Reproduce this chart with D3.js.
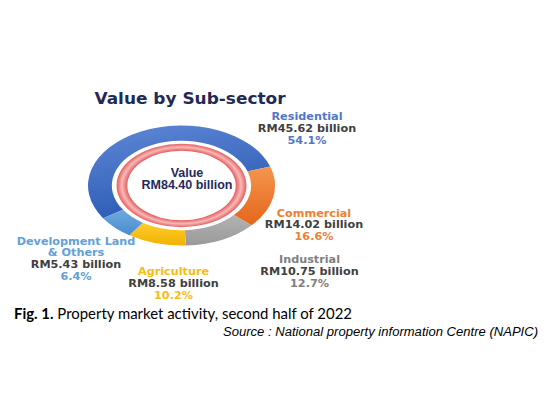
<!DOCTYPE html>
<html>
<head>
<meta charset="utf-8">
<script src="https://cdn.jsdelivr.net/npm/d3@7/dist/d3.min.js"></script>
<style>
    body { margin: 0; background: #fff; }
    svg { display: block; }
</style>
</head>
<body>
<svg id="chart"></svg>
<script>
// data
var sectors = ['Residential', 'Commercial', 'Industrial', 'Agriculture', 'Development Land & Others'];
var values = [45.62, 14.02, 10.75, 8.58, 5.43];       // RM billion
var shares = [54.1, 16.6, 12.7, 10.2, 6.4];           // percent
var totalValue = 84.40;

var width = 546, height = 399;

// slice colours (top / bottom of each gradient) and label colours
var sliceTop = ['#5f88d5', '#f4964f', '#b3b3b3', '#ffcb2e', '#6eaae0'];
var sliceBottom = ['#2c5bb6', '#e4661a', '#999999', '#f2b300', '#4a8ccc'];
var labelColors = ['#4f78cc', '#f07f33', '#7f7f7f', '#f9bd12', '#63a0d8'];
var pctColors = ['#4f78cc', '#f07f33', '#7f7f7f', '#f9bd12', '#63a0d8'];

// where each label block sits (centre x, first baseline)
var labelPos = [[307, 120], [314, 216.5], [309.5, 263], [173.5, 275], [76, 244.5]];

var svg = d3.select('#chart')
    .attr('width', width)
    .attr('height', height);

var defs = svg.append('defs');

// donut geometry: a circle squashed into an ellipse
var cx = 181.5, cy = 185.5, sx = 0.935, sy = 0.60;
var R = 100, r = 74.5;

sectors.forEach(function (s, i) {
    var g = defs.append('linearGradient')
        .attr('id', 'slice' + i)
        .attr('x1', 0).attr('y1', 0)
        .attr('x2', i === 0 ? 0.35 : 0).attr('y2', 1);
    g.append('stop').attr('offset', 0).attr('stop-color', sliceTop[i]);
    g.append('stop').attr('offset', 1).attr('stop-color', sliceBottom[i]);
});

// red inner ring gradient (edges red, middle pale)
var ringOuter = 69.5, ringInner = 58;
var rg = defs.append('radialGradient')
    .attr('id', 'ring')
    .attr('gradientUnits', 'userSpaceOnUse')
    .attr('cx', 0).attr('cy', 0).attr('r', ringOuter);
rg.append('stop').attr('offset', ringInner / ringOuter).attr('stop-color', '#e55f5f');
rg.append('stop').attr('offset', (ringInner + ringOuter) / 2 / ringOuter).attr('stop-color', '#f8b8b8');
rg.append('stop').attr('offset', 1).attr('stop-color', '#e55f5f');

var startA = -123 * Math.PI / 180;
var pie = d3.pie()
    .sort(null)
    .startAngle(startA)
    .endAngle(startA + 2 * Math.PI);
var arc = d3.arc().innerRadius(r).outerRadius(R);

var donut = svg.append('g')
    .attr('transform', 'translate(' + cx + ',' + cy + ') scale(' + sx + ',' + sy + ')');

donut.selectAll('path.slice')
    .data(pie(values))
    .enter()
    .append('path')
    .attr('class', 'slice')
    .attr('fill', function (d, i) { return 'url(#slice' + i + ')'; })
    .attr('d', arc);

donut.append('path')
    .attr('fill', 'url(#ring)')
    .attr('d', d3.arc().innerRadius(ringInner).outerRadius(ringOuter).startAngle(0).endAngle(2 * Math.PI)());

// title
svg.append('text')
    .attr('transform', 'translate(190,103.5) scale(1.13,1)')
    .attr('text-anchor', 'middle')
    .style('font-family', 'DejaVu Sans')
    .style('font-weight', 'bold')
    .style('font-size', '15px')
    .attr('fill', '#1f2a55')
    .text('Value by Sub-sector');

// centre text
var centre = svg.append('text')
    .attr('text-anchor', 'middle')
    .style('font-family', 'Liberation Sans, Arial')
    .style('font-weight', 'bold')
    .style('font-size', '12.5px')
    .attr('fill', '#1f2a5c');
centre.append('tspan').attr('x', 187).attr('y', 176.5).text('Value');
centre.append('tspan').attr('x', 187).attr('y', 189).text('RM' + totalValue.toFixed(2) + ' billion');

// slice labels
var lineH = 12;
sectors.forEach(function (s, i) {
    var nameLines = s === 'Development Land & Others' ? ['Development Land', '& Others'] : [s];
    var lines = nameLines.map(function (t) { return { t: t, c: labelColors[i] }; });
    lines.push({ t: 'RM' + values[i].toFixed(2) + ' billion', c: '#404040' });
    lines.push({ t: shares[i].toFixed(1) + '%', c: pctColors[i] });

    var g = svg.append('g')
        .attr('transform', 'translate(' + labelPos[i][0] + ',' + labelPos[i][1] + ') scale(1.07,1)');
    g.selectAll('text')
        .data(lines)
        .enter()
        .append('text')
        .attr('x', 0)
        .attr('y', function (d, j) { return j * lineH; })
        .attr('text-anchor', 'middle')
        .style('font-family', 'DejaVu Sans')
        .style('font-weight', 'bold')
        .style('font-size', '10.5px')
        .attr('fill', function (d) { return d.c; })
        .text(function (d) { return d.t; });
});

// caption
var cap = svg.append('text')
    .attr('x', 14)
    .attr('y', 319)
    .attr('textLength', 338)
    .attr('lengthAdjust', 'spacingAndGlyphs')
    .style('font-family', 'Liberation Sans Narrow, Lato, sans-serif')
    .style('font-size', '15px')
    .attr('fill', '#000');
cap.append('tspan').style('font-weight', 'bold').text('Fig. 1.');
cap.append('tspan').text(' Property market activity, second half of 2022');

svg.append('text')
    .attr('x', 538)
    .attr('y', 336)
    .attr('text-anchor', 'end')
    .attr('textLength', 315)
    .attr('lengthAdjust', 'spacingAndGlyphs')
    .style('font-family', 'Liberation Sans, Arial')
    .style('font-style', 'italic')
    .style('font-size', '12.5px')
    .attr('fill', '#000')
    .text('Source : National property information Centre (NAPIC)');
</script>
</body>
</html>
